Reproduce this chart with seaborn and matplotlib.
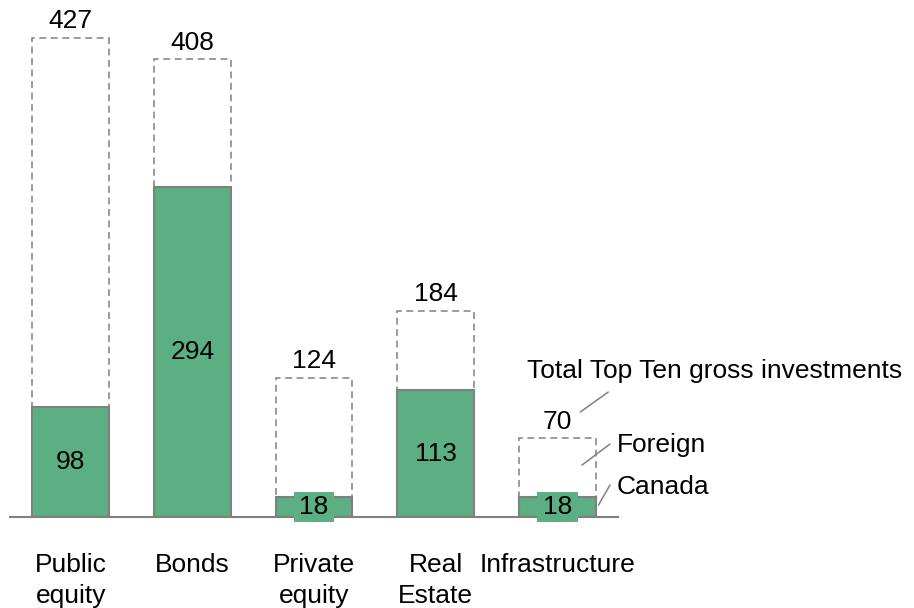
import matplotlib
matplotlib.use("Agg")
import matplotlib.pyplot as plt
import seaborn as sns
import pandas as pd
from matplotlib.path import Path

categories = ["Public\nequity", "Bonds", "Private\nequity", "Real\nEstate", "Infrastructure"]
total_values = [427, 408, 124, 184, 70]
canada_values = [98, 294, 18, 113, 18]

GREEN = "#5BAF82"
GRAY = "#808080"
FS = 19

sns.set_theme(style="white")
plt.rcParams["font.family"] = ["Liberation Sans", "DejaVu Sans"]
plt.rcParams["text.color"] = "black"
plt.rcParams["xtick.color"] = "black"

fig = plt.figure(figsize=(9.14, 6.08), dpi=100)
ax = fig.add_axes([10 / 914, 1 - 517 / 608, 608 / 914, 517 / 608])

df = pd.DataFrame({"cat": categories, "total": total_values, "canada": canada_values})

sns.barplot(data=df, x="cat", y="total", width=0.63, ax=ax, color="white")
tot_container = ax.containers[0]
for p in tot_container.patches:
    p.set_facecolor("none")
    p.set_edgecolor(GRAY)
    p.set_linestyle((0, (4.5, 3)))
    p.set_linewidth(1.1)

sns.barplot(data=df, x="cat", y="canada", width=0.63, ax=ax, color=GREEN, saturation=1)
can_container = ax.containers[1]
for p in can_container.patches:
    p.set_facecolor(GREEN)
    p.set_edgecolor(GRAY)
    p.set_linewidth(1.5)


def label_box(x0, y0, width, height, mutation_size):
    padx = 0.22 * mutation_size
    pady = 0.1 * mutation_size
    x0, y0 = x0 - padx, y0 - pady
    x1, y1 = x0 + width + 2 * padx, y0 + height + 2 * pady
    return Path([(x0, y0), (x1, y0), (x1, y1), (x0, y1), (x0, y0)],
                closed=True)


ax.bar_label(tot_container, labels=[str(v) for v in total_values], padding=3.2,
             fontsize=FS, color="black")
ax.bar_label(can_container, labels=[str(v) for v in canada_values], label_type="center",
             fontsize=FS, color="black",
             bbox=dict(boxstyle=label_box, facecolor=GREEN, edgecolor="none"))

ax.set_xlim(-0.5, 4.5)
ax.set_ylim(0, 517 / 1.122)
ax.set_xlabel("")
ax.set_ylabel("")
ax.set_yticks([])
for s in ["top", "right", "left"]:
    ax.spines[s].set_visible(False)
ax.spines["bottom"].set_color(GRAY)
ax.spines["bottom"].set_linewidth(1.5)

ax.set_xticks(range(len(categories)))
ax.set_xticklabels(categories, fontsize=FS, linespacing=1.38, color="black")
ax.tick_params(axis="x", which="major", length=0, pad=26)
ax.set_xticks([i - 0.5 for i in range(len(categories) + 1)], minor=True)
ax.tick_params(axis="x", which="minor", length=6, width=1.5, color=GRAY, direction="out")

# legend-like annotations
ax.plot([4.19, 4.42], [93.6, 111.4], color=GRAY, lw=1.1, clip_on=False)
ax.text(3.75, 124, "Total Top Ten gross investments", fontsize=FS, ha="left",
        va="baseline", clip_on=False)
ax.plot([4.204, 4.434], [46.3, 65], color=GRAY, lw=1.1, clip_on=False)
ax.text(4.49, 58, "Foreign", fontsize=FS, ha="left", va="baseline", clip_on=False)
ax.plot([4.34, 4.434], [10.7, 28.5], color=GRAY, lw=1.1, clip_on=False)
ax.text(4.49, 20.5, "Canada", fontsize=FS, ha="left", va="baseline", clip_on=False)

fig.savefig("out.png", dpi=100)
